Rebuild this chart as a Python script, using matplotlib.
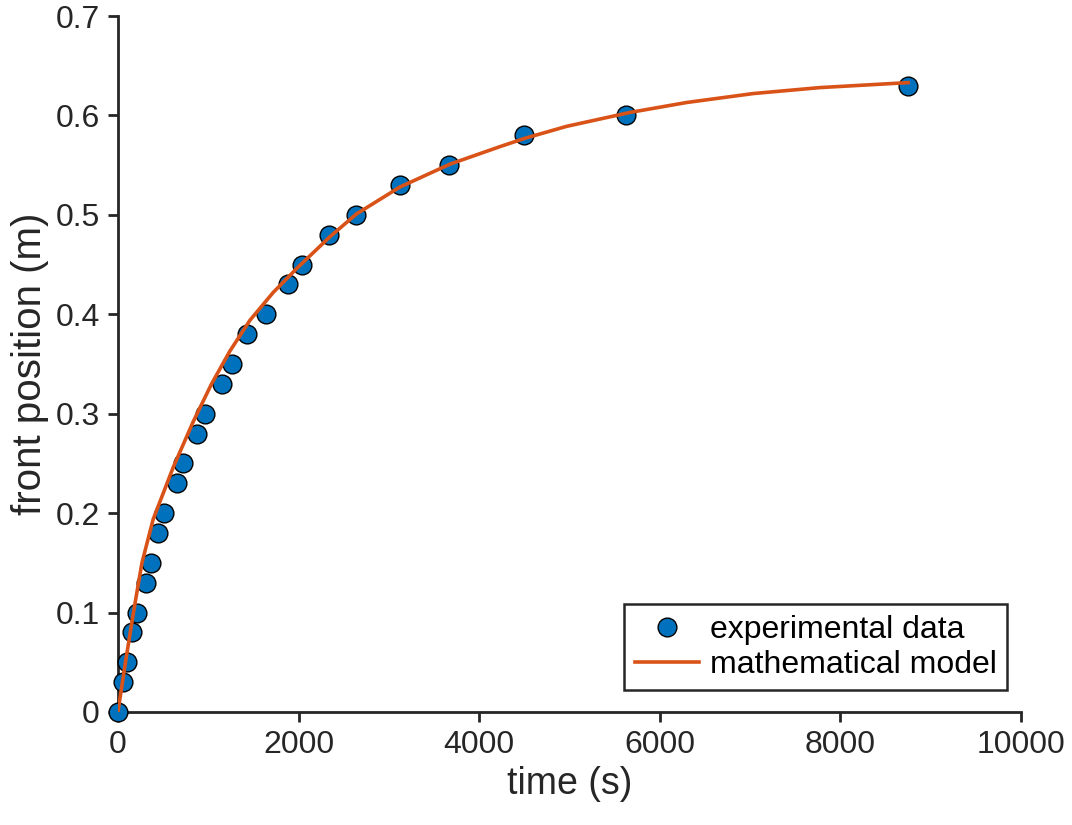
import numpy as np
import matplotlib
matplotlib.use("Agg")
import matplotlib.pyplot as plt

# ------------------------------------------------------------------
# Data
# ------------------------------------------------------------------
time_exp = [0, 60, 96, 159, 214, 306, 362, 440, 513, 650, 723, 871, 967,
            1155, 1259, 1432, 1636, 1886, 2041, 2337, 2636, 3123, 3669,
            4496, 5626, 8750]
front_exp = [0, 0.03, 0.05, 0.08, 0.10, 0.13, 0.15, 0.18, 0.20, 0.23, 0.25,
             0.28, 0.30, 0.33, 0.35, 0.38, 0.40, 0.43, 0.45, 0.48, 0.50,
             0.53, 0.55, 0.58, 0.60, 0.63]

time_model = [0, 87, 172, 266, 391, 612, 834, 1037, 1240, 1462, 1720, 1979,
              2348, 2643, 3123, 3677, 4230, 4507, 4968, 5670, 6298, 7035,
              7774, 8750]
front_model = [0, 0.052, 0.10, 0.150, 0.194, 0.246, 0.292, 0.330, 0.363,
               0.394, 0.422, 0.446, 0.478, 0.501, 0.528, 0.551, 0.5686,
               0.577, 0.589, 0.603, 0.613, 0.622, 0.628, 0.633]

x_ticks = [0, 2000, 4000, 6000, 8000, 10000]
y_ticks = [0, 0.1, 0.2, 0.3, 0.4, 0.5, 0.6, 0.7]

# ------------------------------------------------------------------
# Style (MATLAB-like)
# ------------------------------------------------------------------
dark = (0.15, 0.15, 0.15)
plt.rcParams['font.family'] = ['Liberation Sans', 'DejaVu Sans']
plt.rcParams['font.size'] = 23

fig = plt.figure(figsize=(10.72, 8.25), dpi=100)
ax = fig.add_axes([0.110, 0.137, 0.8424, 0.8436])

ax.plot(time_exp, front_exp, linestyle='none', marker='o', markersize=13.5,
        markerfacecolor='#0072BD', markeredgecolor='black', markeredgewidth=1.0,
        label='experimental data', zorder=3, clip_on=False)
ax.plot(time_model, front_model, color='#D95319', linewidth=2.6,
        solid_joinstyle='round', label='mathematical model', zorder=4)

ax.set_xlim(0, 10000)
ax.set_ylim(0, 0.7)
ax.set_xticks(x_ticks)
ax.set_yticks(y_ticks)
ax.set_yticklabels([f"{v:g}" for v in y_ticks])
ax.set_xlabel("time (s)", color=dark, fontsize=27, labelpad=4)
ax.set_ylabel("front position (m)", color=dark, fontsize=29, labelpad=5)

for side in ['top', 'right']:
    ax.spines[side].set_visible(False)
for side in ['left', 'bottom']:
    ax.spines[side].set_color(dark)
    ax.spines[side].set_linewidth(2.0)
ax.tick_params(direction='out', length=7, width=2.0, color=dark,
               labelcolor=dark, labelsize=23, pad=6)

leg = ax.legend(loc='lower right', bbox_to_anchor=(0.992, 0.022),
                fancybox=False, framealpha=1, edgecolor=dark,
                fontsize=23, handlelength=2.0, borderpad=0.33,
                labelspacing=0.15, handletextpad=0.35, borderaxespad=0.2)
leg.get_frame().set_linewidth(1.8)
for t in leg.get_texts():
    t.set_color('black')

plt.savefig("out.png", dpi=100)
